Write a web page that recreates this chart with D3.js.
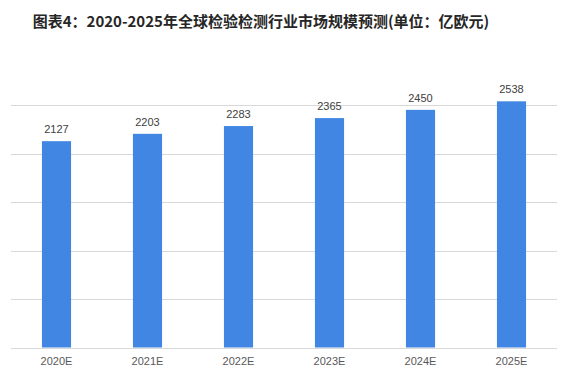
<!DOCTYPE html>
<html><head><meta charset="utf-8">
<script src="https://cdn.jsdelivr.net/npm/d3@7"></script>
<style>body{margin:0;background:#fff}svg{display:block}</style>
</head><body><svg id="c" width="572" height="383"></svg>
<script>
const categories = ["2020E","2021E","2022E","2023E","2024E","2025E"];
const values = [2127,2203,2283,2365,2450,2538];
const yTicks = [0,500,1000,1500,2000,2500];
const title = "图表4：2020-2025年全球检验检测行业市场规模预测(单位：亿欧元)";

const svg = d3.select("#c");
const x = d3.scaleBand().domain(categories).range([11,557]).paddingInner(0.68).paddingOuter(0.34);
const y = d3.scaleLinear().domain([0,2500]).range([347.5,105]);

svg.append("text").attr("x",261).attr("y",27).attr("text-anchor","middle")
  .attr("font-family","'Noto Sans CJK SC', sans-serif").attr("font-weight","bold")
  .attr("font-size",15).attr("fill","#262626").text(title);

svg.append("g").selectAll("line").data(yTicks).join("line")
  .attr("x1",11).attr("x2",557).attr("y1",d=>Math.round(y(d))+0.5).attr("y2",d=>Math.round(y(d))+0.5)
  .attr("stroke","#d9d9d9").attr("stroke-width",1);

svg.append("g").selectAll("rect").data(values).join("rect")
  .attr("x",(d,i)=>x(categories[i])).attr("width",x.bandwidth())
  .attr("y",d=>y(d)).attr("height",d=>y(0)-y(d)).attr("fill","#4086e2");

svg.append("g").selectAll("text").data(values).join("text")
  .attr("x",(d,i)=>x(categories[i])+x.bandwidth()/2).attr("y",d=>y(d)-8)
  .attr("text-anchor","middle").attr("font-family","'Liberation Sans', Arial, sans-serif")
  .attr("font-size",11).attr("fill","#404040").text(d=>d);

const xa = svg.append("g").attr("transform",`translate(0,${y(0)})`)
  .call(d3.axisBottom(x).tickSize(0).tickPadding(10));
xa.select(".domain").remove();
xa.selectAll("text").attr("font-family","'Liberation Sans', Arial, sans-serif").attr("font-size",11).attr("fill","#595959");
</script></body></html>
